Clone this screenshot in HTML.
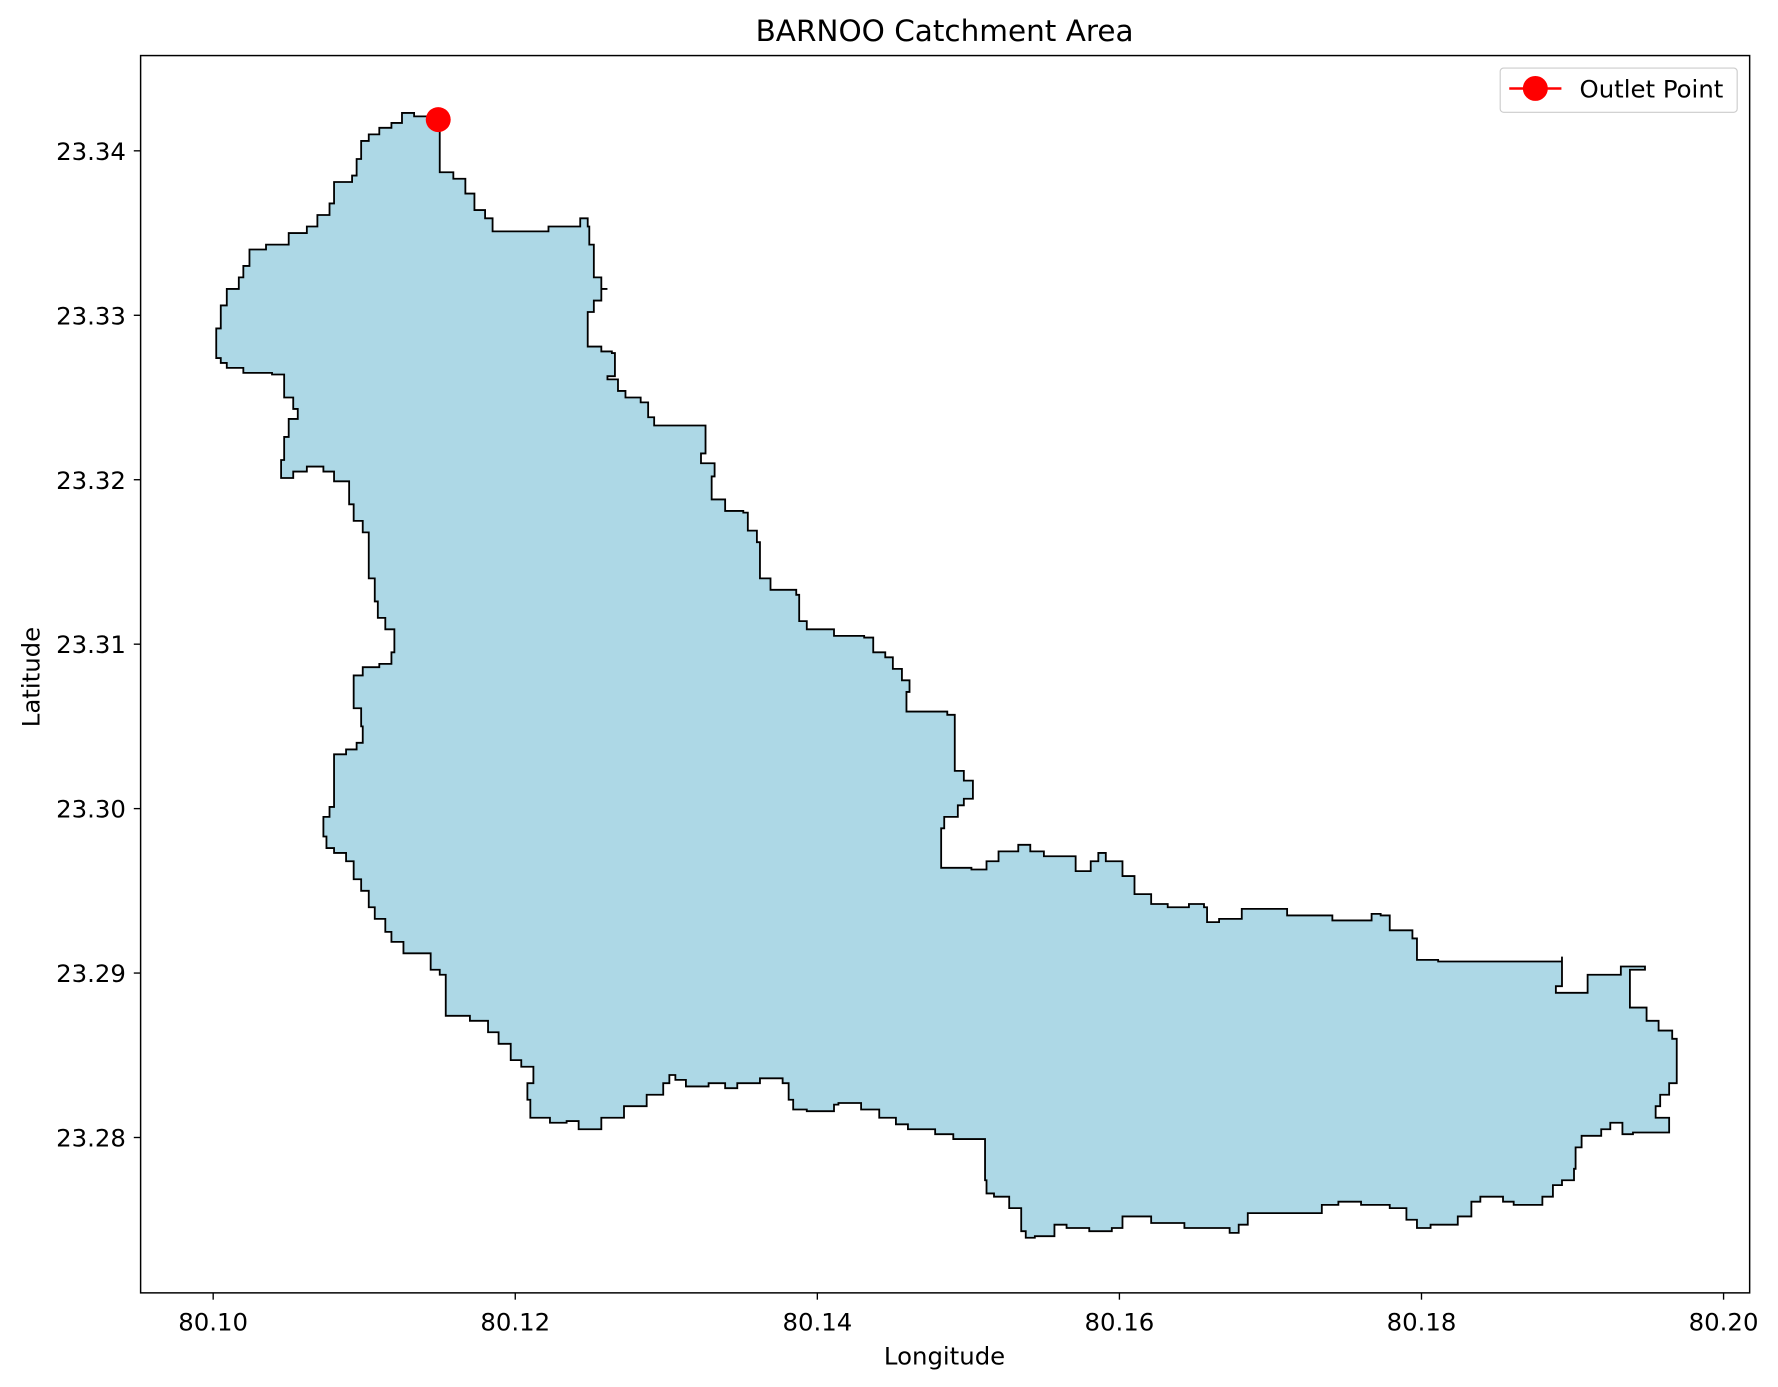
<!DOCTYPE html>
<html><head><meta charset="utf-8"><style>
html,body{margin:0;padding:0;background:#fff}
svg{display:block}
text{font-family:"DejaVu Sans","Liberation Sans",sans-serif;fill:#000}
</style></head><body>
<svg id="chart" width="1778" height="1387" viewBox="0 0 1568 1223" preserveAspectRatio="none" xmlns="http://www.w3.org/2000/svg">
<rect x="0" y="0" width="1568" height="1223" fill="#fff"/>
<text x="833" y="36" font-size="26" text-anchor="middle">BARNOO Catchment Area</text>
<g id="plot"></g>
<text x="833" y="1203" font-size="21.5" text-anchor="middle">Longitude</text>
<text x="0" y="0" font-size="21.5" text-anchor="middle" transform="translate(35,597) rotate(-90)">Latitude</text>
<g>
<rect x="1323" y="60" width="209" height="39" rx="3" fill="#fff" stroke="#ccc" stroke-width="1"/>
<line x1="1331" y1="78" x2="1377" y2="78" stroke="#ff0000" stroke-width="2.2"/>
<circle cx="1354" cy="78" r="11" fill="#ff0000"/>
<text x="1393" y="86" font-size="21.5">Outlet Point</text>
</g>
</svg>
<script>
const xTicks = [80.10, 80.12, 80.14, 80.16, 80.18, 80.20];
const xTickLabels = ["80.10", "80.12", "80.14", "80.16", "80.18", "80.20"];
const yTicks = [23.28, 23.29, 23.30, 23.31, 23.32, 23.33, 23.34];
const yTickLabels = ["23.28", "23.29", "23.30", "23.31", "23.32", "23.33", "23.34"];
const outletLon = [80.1149];
const outletLat = [23.3419];
const boundaryLon = [80.1150,80.1150,80.1159,80.1167,80.1173,80.1180,80.1185,80.1221,80.1222,80.1234,80.1243,80.1248,80.1249,80.1252,80.1252,80.1257,80.1261,80.1257,80.1252,80.1248,80.1248,80.1257,80.1264,80.1266,80.1261,80.1268,80.1273,80.1283,80.1288,80.1292,80.1326,80.1326,80.1323,80.1332,80.1330,80.1339,80.1351,80.1354,80.1360,80.1362,80.1369,80.1386,80.1388,80.1393,80.1411,80.1431,80.1437,80.1445,80.1450,80.1456,80.1461,80.1459,80.1486,80.1491,80.1491,80.1497,80.1503,80.1503,80.1497,80.1493,80.1484,80.1482,80.1502,80.1512,80.1520,80.1533,80.1541,80.1550,80.1567,80.1571,80.1581,80.1586,80.1591,80.1602,80.1610,80.1621,80.1632,80.1646,80.1656,80.1658,80.1666,80.1681,80.1701,80.1711,80.1730,80.1741,80.1758,80.1767,80.1773,80.1779,80.1794,80.1797,80.1811,80.1893,80.1893,80.1889,80.1899,80.1910,80.1932,80.1948,80.1938,80.1938,80.1949,80.1957,80.1966,80.1969,80.1969,80.1964,80.1958,80.1955,80.1964,80.1964,80.1940,80.1933,80.1925,80.1919,80.1906,80.1902,80.1901,80.1893,80.1887,80.1880,80.1861,80.1854,80.1839,80.1833,80.1824,80.1806,80.1797,80.1790,80.1779,80.1760,80.1745,80.1734,80.1692,80.1685,80.1679,80.1673,80.1643,80.1621,80.1606,80.1602,80.1595,80.1580,80.1565,80.1557,80.1544,80.1538,80.1535,80.1527,80.1517,80.1512,80.1511,80.1490,80.1478,80.1460,80.1452,80.1441,80.1429,80.1414,80.1411,80.1393,80.1384,80.1381,80.1377,80.1362,80.1347,80.1339,80.1328,80.1313,80.1306,80.1302,80.1298,80.1287,80.1272,80.1261,80.1257,80.1242,80.1234,80.1223,80.1212,80.1210,80.1208,80.1212,80.1204,80.1197,80.1189,80.1182,80.1170,80.1155,80.1154,80.1150,80.1144,80.1126,80.1118,80.1114,80.1107,80.1103,80.1098,80.1093,80.1088,80.1080,80.1075,80.1073,80.1077,80.1080,80.1080,80.1088,80.1095,80.1099,80.1098,80.1093,80.1093,80.1099,80.1110,80.1118,80.1120,80.1114,80.1109,80.1107,80.1103,80.1103,80.1099,80.1093,80.1090,80.1080,80.1073,80.1062,80.1053,80.1045,80.1047,80.1050,80.1056,80.1053,80.1047,80.1039,80.1020,80.1009,80.1005,80.1002,80.1002,80.1005,80.1009,80.1017,80.1020,80.1024,80.1035,80.1050,80.1062,80.1069,80.1077,80.1080,80.1092,80.1095,80.1098,80.1103,80.1110,80.1118,80.1125,80.1133,80.1144];
const boundaryLat = [23.3414,23.3387,23.3383,23.3374,23.3364,23.3359,23.3351,23.3351,23.3354,23.3354,23.3359,23.3354,23.3343,23.3340,23.3323,23.3316,23.3316,23.3309,23.3302,23.3299,23.3281,23.3278,23.3277,23.3263,23.3261,23.3254,23.3250,23.3247,23.3238,23.3233,23.3231,23.3216,23.3210,23.3202,23.3188,23.3181,23.3180,23.3169,23.3162,23.3140,23.3133,23.3130,23.3114,23.3109,23.3105,23.3104,23.3095,23.3092,23.3085,23.3078,23.3071,23.3059,23.3057,23.3050,23.3023,23.3017,23.3015,23.3006,23.3002,23.2995,23.2988,23.2964,23.2963,23.2968,23.2974,23.2978,23.2974,23.2971,23.2971,23.2962,23.2968,23.2973,23.2968,23.2959,23.2948,23.2942,23.2940,23.2942,23.2940,23.2931,23.2933,23.2939,23.2939,23.2935,23.2935,23.2932,23.2932,23.2936,23.2935,23.2926,23.2921,23.2908,23.2907,23.2910,23.2892,23.2888,23.2888,23.2899,23.2904,23.2902,23.2893,23.2879,23.2871,23.2865,23.2860,23.2843,23.2833,23.2826,23.2819,23.2812,23.2809,23.2803,23.2802,23.2809,23.2805,23.2801,23.2794,23.2781,23.2774,23.2771,23.2764,23.2759,23.2761,23.2764,23.2761,23.2752,23.2747,23.2745,23.2750,23.2757,23.2759,23.2761,23.2759,23.2754,23.2754,23.2747,23.2742,23.2745,23.2748,23.2752,23.2752,23.2745,23.2743,23.2745,23.2747,23.2740,23.2739,23.2743,23.2757,23.2764,23.2766,23.2774,23.2799,23.2802,23.2805,23.2808,23.2812,23.2817,23.2821,23.2820,23.2816,23.2817,23.2823,23.2833,23.2836,23.2833,23.2830,23.2833,23.2831,23.2835,23.2838,23.2833,23.2826,23.2819,23.2812,23.2812,23.2805,23.2810,23.2809,23.2812,23.2812,23.2823,23.2833,23.2843,23.2847,23.2857,23.2864,23.2871,23.2874,23.2874,23.2899,23.2902,23.2912,23.2919,23.2925,23.2933,23.2940,23.2950,23.2957,23.2968,23.2973,23.2976,23.2983,23.2995,23.3001,23.3009,23.3033,23.3036,23.3040,23.3050,23.3061,23.3070,23.3081,23.3086,23.3088,23.3095,23.3109,23.3116,23.3126,23.3140,23.3154,23.3168,23.3175,23.3185,23.3199,23.3205,23.3208,23.3205,23.3201,23.3212,23.3226,23.3237,23.3243,23.3250,23.3264,23.3265,23.3268,23.3271,23.3274,23.3285,23.3292,23.3306,23.3316,23.3323,23.3330,23.3340,23.3343,23.3350,23.3354,23.3361,23.3368,23.3381,23.3385,23.3395,23.3406,23.3410,23.3414,23.3417,23.3423,23.3421,23.3416];

const NS = "http://www.w3.org/2000/svg";
const AX = {l:124, t:49, r:1543, b:1140};
function xScale(lon){ return 188 + (lon - 80.10) * 13320; }
function yScale(lat){ return 133 + (23.34 - lat) * 14500; }
const plot = document.getElementById('plot');
function mk(tag, attrs){ const e = document.createElementNS(NS, tag); for (const k in attrs) e.setAttribute(k, attrs[k]); return e; }

let d = '';
for (let i = 0; i < boundaryLon.length; i++) {
  const x = xScale(boundaryLon[i]), y = yScale(boundaryLat[i]);
  if (i === 0) { d += 'M' + x.toFixed(1) + ',' + y.toFixed(1); }
  else { d += 'H' + x.toFixed(1) + 'V' + y.toFixed(1); }
}
d += 'Z';
const poly = mk('path', {d: d, fill: '#add8e6', stroke: '#000', 'stroke-width': '1.6', 'stroke-linejoin': 'miter'});


plot.appendChild(poly);

for (let i = 0; i < outletLon.length; i++) {
  const c = mk('circle', {cx: xScale(outletLon[i]), cy: yScale(outletLat[i]), r: 11, fill: '#ff0000'});
  
  
  plot.appendChild(c);
}

const frame = mk('rect', {x: AX.l, y: AX.t, width: AX.r - AX.l, height: AX.b - AX.t, fill: 'none', stroke: '#000', 'stroke-width': '1.3'});


plot.appendChild(frame);

for (let i = 0; i < xTicks.length; i++) {
  const x = xScale(xTicks[i]);
  const tk = mk('line', {x1: x, y1: AX.b, x2: x, y2: AX.b + 6, stroke: '#000', 'stroke-width': '1.2'});
  
  
  plot.appendChild(tk);
  const t = mk('text', {x: x, y: AX.b + 33, 'font-size': '21.5', 'text-anchor': 'middle'});
  t.textContent = xTickLabels[i];
  
  
  plot.appendChild(t);
}
for (let i = 0; i < yTicks.length; i++) {
  const y = yScale(yTicks[i]);
  const tk = mk('line', {x1: AX.l - 6, y1: y, x2: AX.l, y2: y, stroke: '#000', 'stroke-width': '1.2'});
  
  
  plot.appendChild(tk);
  const t = mk('text', {x: AX.l - 13, y: y + 8, 'font-size': '21.5', 'text-anchor': 'end'});
  t.textContent = yTickLabels[i];
  
  
  plot.appendChild(t);
}
</script>
</body></html>
